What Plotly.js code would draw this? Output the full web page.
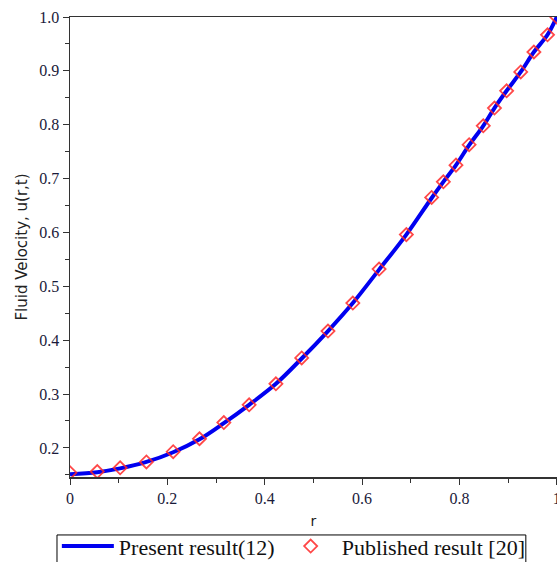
<!DOCTYPE html>
<html>
<head>
<meta charset="utf-8">
<script src="https://cdn.plot.ly/plotly-3.0.1.min.js"></script>
<style>html,body{margin:0;padding:0;background:#fff;}#chart{width:557px;height:562px;}</style>
</head>
<body>
<div id="chart"></div>
<script>
// Data
const r_values = [0, 0.056, 0.103, 0.157, 0.212, 0.266, 0.316, 0.368, 0.423, 0.476, 0.530, 0.581, 0.635, 0.691, 0.743, 0.767, 0.793, 0.820, 0.849, 0.872, 0.897, 0.926, 0.953, 0.981, 1.0];
const present_u = [0.151, 0.155, 0.162, 0.174, 0.192, 0.216, 0.246, 0.280, 0.319, 0.366, 0.417, 0.469, 0.531, 0.596, 0.664, 0.694, 0.725, 0.762, 0.798, 0.831, 0.863, 0.898, 0.935, 0.967, 1.0];
const published_u = [0.154, 0.156, 0.163, 0.174, 0.193, 0.217, 0.247, 0.280, 0.319, 0.367, 0.417, 0.469, 0.532, 0.596, 0.665, 0.694, 0.725, 0.763, 0.798, 0.831, 0.863, 0.898, 0.935, 0.967, 1.0];
const seriesNames = ["Present result(12)", "Published result [20]"];
const xTicks = [0, 0.2, 0.4, 0.6, 0.8, 1];
const xTickText = ["0", "0.2", "0.4", "0.6", "0.8", "1"];
const yTicks = [0.2, 0.3, 0.4, 0.5, 0.6, 0.7, 0.8, 0.9, 1.0];
const yTickText = ["0.2", "0.3", "0.4", "0.5", "0.6", "0.7", "0.8", "0.9", "1.0"];

const traces = [
  {
    x: r_values, y: present_u, name: seriesNames[0],
    type: "scatter", mode: "lines",
    line: {color: "#0000f0", width: 4, shape: "spline"}
  },
  {
    x: r_values, y: published_u, name: seriesNames[1],
    type: "scatter", mode: "markers",
    marker: {symbol: "diamond-open", size: 10, color: "rgba(255,40,40,0.85)", line: {width: 1.8}}
  }
];

const layout = {
  width: 557, height: 562,
  margin: {l: 70, r: 0, t: 17, b: 85, autoexpand: false},
  paper_bgcolor: "#fff", plot_bgcolor: "#fff",
  showlegend: true,
  xaxis: {
    range: [0, 1.0005], tickvals: xTicks, ticktext: xTickText,
    showgrid: false, zeroline: false, automargin: false,
    ticklabeloverflow: "allow",
    showline: true, linecolor: "#333", linewidth: 1.5, mirror: true,
    ticks: "outside", ticklen: 6, tickcolor: "#333",
    minor: {dtick: 0.1, tick0: 0, ticks: "outside", ticklen: 4, tickcolor: "#333", showgrid: false},
    tickfont: {family: "Liberation Serif", size: 16, color: "#1a1a3a"},
    title: {text: "r", font: {family: "DejaVu Sans", size: 14, color: "#222"}, standoff: 10}
  },
  yaxis: {
    range: [0.146, 1.0], tickvals: yTicks, ticktext: yTickText,
    showgrid: false, zeroline: false, automargin: false,
    showline: true, linecolor: "#333", linewidth: 1.5,
    ticks: "outside", ticklen: 6, tickcolor: "#333",
    minor: {dtick: 0.05, tick0: 0, ticks: "outside", ticklen: 4, tickcolor: "#333", showgrid: false},
    tickfont: {family: "Liberation Serif", size: 16, color: "#1a1a3a"},
    title: {text: "Fluid Velocity, u(r,t)", font: {family: "DejaVu Sans", size: 15, color: "#222"}, standoff: 8}
  },
  shapes: [
    {type: "rect", xref: "paper", yref: "paper", x0: -0.0267, x1: 0.936, y0: -0.126, y1: -0.2,
     line: {color: "#000", width: 1}, fillcolor: "rgba(0,0,0,0)", layer: "below"}
  ],
  legend: {
    orientation: "h", x: -0.027, y: -0.105, xanchor: "left", yanchor: "top",
    borderwidth: 0, bgcolor: "rgba(0,0,0,0)",
    font: {family: "Liberation Serif", size: 22, color: "#111"},
    itemwidth: 52
  }
};

Plotly.newPlot("chart", traces, layout, {displayModeBar: false, staticPlot: true});
</script>
</body>
</html>
